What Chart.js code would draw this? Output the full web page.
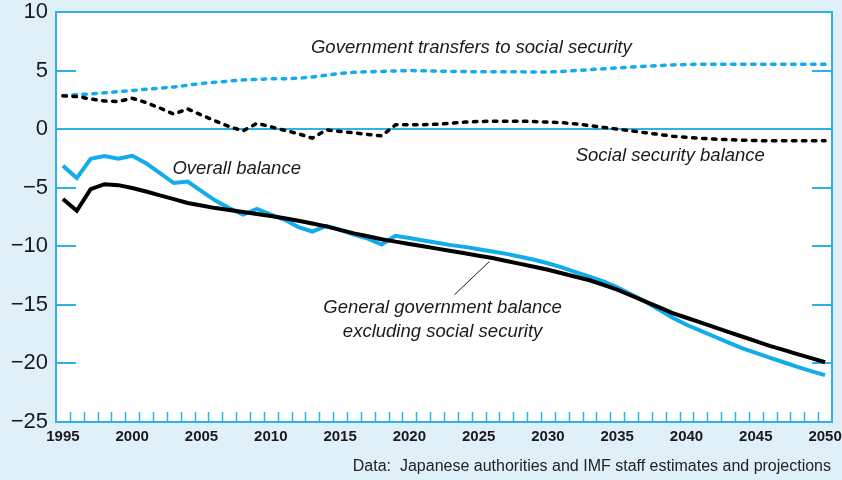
<!DOCTYPE html>
<html lang="en">
  <head>
    <meta charset="utf-8" />
    <script src="https://cdn.jsdelivr.net/npm/chart.js@4.4.0/dist/chart.umd.min.js"></script>
    <title>Japan balances</title>
    <style>
      html, body { margin: 0; padding: 0; background: #dff0f9; }
      #wrap { position: relative; width: 842px; height: 480px; }
      #source {
        position: absolute; right: 11px; top: 457px;
        font: 16px "Liberation Sans", Arial, sans-serif; color: #222;
        white-space: pre;
      }
    </style>
  </head>
  <body>
    <div id="wrap">
      <canvas id="chart" width="842" height="480"></canvas>
      <div id="source">Data:  Japanese authorities and IMF staff estimates and projections</div>
    </div>
    <script>
      const years = [1995, 1996, 1997, 1998, 1999, 2000, 2001, 2002, 2003, 2004,
        2005, 2006, 2007, 2008, 2009, 2010, 2011, 2012, 2013, 2014,
        2015, 2016, 2017, 2018, 2019, 2020, 2021, 2022, 2023, 2024,
        2025, 2026, 2027, 2028, 2029, 2030, 2031, 2032, 2033, 2034,
        2035, 2036, 2037, 2038, 2039, 2040, 2041, 2042, 2043, 2044,
        2045, 2046, 2047, 2048, 2049, 2050];

      const transfers = [2.85, 2.95, 3.0, 3.1, 3.2, 3.3, 3.4, 3.5, 3.6, 3.75,
        3.9, 4.0, 4.1, 4.2, 4.25, 4.3, 4.3, 4.35, 4.45, 4.6,
        4.75, 4.85, 4.9, 4.93, 4.97, 5.0, 4.98, 4.95, 4.93, 4.92,
        4.9, 4.9, 4.9, 4.89, 4.88, 4.88, 4.92, 5.0, 5.07, 5.15,
        5.22, 5.3, 5.37, 5.43, 5.48, 5.52, 5.54, 5.55, 5.55, 5.55,
        5.55, 5.55, 5.55, 5.55, 5.55, 5.55];

      const socialSecurity = [2.84, 2.78, 2.58, 2.4, 2.36, 2.64, 2.27, 1.8, 1.28, 1.73,
        1.2, 0.7, 0.22, -0.15, 0.5, 0.2, -0.1, -0.4, -0.77, -0.06,
        -0.2, -0.32, -0.45, -0.57, 0.37, 0.37, 0.38, 0.42, 0.5, 0.6,
        0.65, 0.68, 0.68, 0.68, 0.65, 0.6, 0.55, 0.45, 0.3, 0.15,
        0.0, -0.15, -0.3, -0.45, -0.6, -0.7, -0.78, -0.85, -0.9, -0.95,
        -0.97, -1.0, -1.0, -1.0, -1.0, -1.0];

      const overall = [-3.13, -4.18, -2.53, -2.3, -2.53, -2.28, -2.9, -3.75, -4.6, -4.47,
        -5.3, -6.1, -6.74, -7.3, -6.8, -7.3, -7.74, -8.36, -8.74, -8.25,
        -8.6, -9.0, -9.35, -9.85, -9.1, -9.3, -9.5, -9.7, -9.9, -10.05,
        -10.25, -10.45, -10.65, -10.9, -11.15, -11.45, -11.8, -12.2, -12.6, -13.0,
        -13.5, -14.1, -14.7, -15.4, -16.1, -16.7, -17.2, -17.7, -18.2, -18.7,
        -19.1, -19.5, -19.9, -20.3, -20.65, -21.0];

      const generalExSS = [-5.97, -6.97, -5.12, -4.7, -4.78, -5.03, -5.32, -5.66, -5.97, -6.3,
        -6.52, -6.74, -6.91, -7.08, -7.25, -7.42, -7.6, -7.82, -8.05, -8.3,
        -8.6, -8.9, -9.15, -9.4, -9.6, -9.8, -10.0, -10.2, -10.4, -10.6,
        -10.8, -11.0, -11.25, -11.5, -11.75, -12.0, -12.3, -12.6, -12.9, -13.3,
        -13.7, -14.2, -14.7, -15.2, -15.7, -16.1, -16.5, -16.9, -17.3, -17.7,
        -18.1, -18.5, -18.85, -19.2, -19.55, -19.9];

      const xTickLabels = [1995, 2000, 2005, 2010, 2015, 2020, 2025, 2030, 2035, 2040, 2045, 2050];
      const yTickLabels = [10, 5, 0, -5, -10, -15, -20, -25];

      const BLUE = '#12aceb';
      const FRAME = '#2fb0e6';
      const FONT = '"Liberation Sans", Arial, sans-serif';

      // text labels placed in data units
      const notes = [
        { lines: ['Government transfers to social security'], x: 2012.9, y: 6.94, align: 'left' },
        { lines: ['Social security balance'], x: 2032.0, y: -2.28, align: 'left' },
        { lines: ['Overall balance'], x: 2002.9, y: -3.39, align: 'left' },
        { lines: ['General government balance', 'excluding social security'], x: 2022.4, y: -15.25, align: 'center' }
      ];
      const leader = { x1: 2023.25, y1: -14.14, x2: 2025.78, y2: -11.3 };

      function pts(values) {
        return years.map((yr, i) => ({ x: yr, y: values[i] }));
      }

      const framePlugin = {
        id: 'frame',
        beforeDraw(chart) {
          const { ctx, chartArea: a } = chart;
          ctx.save();
          ctx.fillStyle = '#ffffff';
          ctx.fillRect(a.left, a.top, a.right - a.left, a.bottom - a.top);
          ctx.restore();
        },
        beforeDatasetsDraw(chart) {
          const { ctx, chartArea: a, scales } = chart;
          const x = scales.x, y = scales.y;
          ctx.save();
          ctx.strokeStyle = FRAME;
          ctx.lineWidth = 2;
          // y ticks inside on both sides, zero line across
          yTickLabels.forEach(v => {
            if (v === 10 || v === -25) return;
            const py = Math.round(y.getPixelForValue(v));
            ctx.beginPath();
            if (v === 0) {
              ctx.moveTo(a.left, py); ctx.lineTo(a.right, py);
            } else {
              ctx.moveTo(a.left, py); ctx.lineTo(a.left + 20, py);
              ctx.moveTo(a.right - 20, py); ctx.lineTo(a.right, py);
            }
            ctx.stroke();
          });
          // year ticks between years, pointing up from the bottom
          ctx.lineWidth = 1.5;
          years.slice(0, -1).forEach(yr => {
            const px = Math.round(x.getPixelForValue(yr + 0.5)) + 0.5;
            ctx.beginPath();
            ctx.moveTo(px, a.bottom); ctx.lineTo(px, a.bottom - 10);
            ctx.stroke();
          });
          ctx.lineWidth = 2;
          ctx.strokeRect(a.left, a.top, a.right - a.left, a.bottom - a.top);
          ctx.restore();
        },
        afterDatasetsDraw(chart) {
          const { ctx, scales } = chart;
          const x = scales.x, y = scales.y;
          ctx.save();
          ctx.fillStyle = '#1a1a1a';
          ctx.font = 'italic 18.5px ' + FONT;
          ctx.textBaseline = 'middle';
          notes.forEach(n => {
            ctx.textAlign = n.align;
            const px = x.getPixelForValue(n.x);
            const py = y.getPixelForValue(n.y);
            n.lines.forEach((t, i) => ctx.fillText(t, px, py + i * 24));
          });
          ctx.strokeStyle = '#1a1a1a';
          ctx.lineWidth = 1;
          ctx.beginPath();
          ctx.moveTo(x.getPixelForValue(leader.x1), y.getPixelForValue(leader.y1));
          ctx.lineTo(x.getPixelForValue(leader.x2), y.getPixelForValue(leader.y2));
          ctx.stroke();
          ctx.restore();
        }
      };

      const ctx = document.getElementById('chart').getContext('2d');
      new Chart(ctx, {
        type: 'line',
        data: {
          datasets: [
            {
              label: 'General government balance excluding social security',
              data: pts(generalExSS),
              borderColor: '#000000',
              borderWidth: 4,
              order: 1
            },
            {
              label: 'Social security balance',
              data: pts(socialSecurity),
              borderColor: '#000000',
              borderWidth: 3.5,
              borderDash: [3.5, 6.5],
              borderCapStyle: 'round',
              order: 2
            },
            {
              label: 'Overall balance',
              data: pts(overall),
              borderColor: BLUE,
              borderWidth: 4,
              order: 3
            },
            {
              label: 'Government transfers to social security',
              data: pts(transfers),
              borderColor: BLUE,
              borderWidth: 3.5,
              borderDash: [3.5, 6.5],
              borderCapStyle: 'round',
              order: 4
            }
          ]
        },
        options: {
          responsive: false,
          animation: false,
          elements: { point: { radius: 0 }, line: { tension: 0, fill: false } },
          layout: { padding: { top: 12, right: 10, left: 0, bottom: 0 } },
          plugins: { legend: { display: false }, tooltip: { enabled: false } },
          scales: {
            x: {
              type: 'linear',
              min: 1994.5,
              max: 2050.5,
              afterBuildTicks: s => { s.ticks = xTickLabels.map(v => ({ value: v })); },
              afterFit: s => { s.height = 58; s.paddingLeft = 0; s.paddingRight = 0; },
              grid: { display: false, drawTicks: false },
              border: { display: false },
              ticks: {
                autoSkip: false,
                maxRotation: 0,
                padding: 6,
                color: '#1a1a1a',
                font: { family: FONT, size: 15, weight: 'bold' },
                callback: v => String(v)
              }
            },
            y: {
              min: -25,
              max: 10,
              afterBuildTicks: s => { s.ticks = yTickLabels.map(v => ({ value: v })); },
              afterFit: s => { s.width = 56; s.paddingTop = 0; s.paddingBottom = 0; },
              grid: { display: false, drawTicks: false },
              border: { display: false },
              ticks: {
                padding: 8,
                color: '#1a1a1a',
                font: { family: FONT, size: 22 },
                callback: v => (v < 0 ? '\u2212' + Math.abs(v) : String(v))
              }
            }
          }
        },
        plugins: [framePlugin]
      });
    </script>
  </body>
</html>
